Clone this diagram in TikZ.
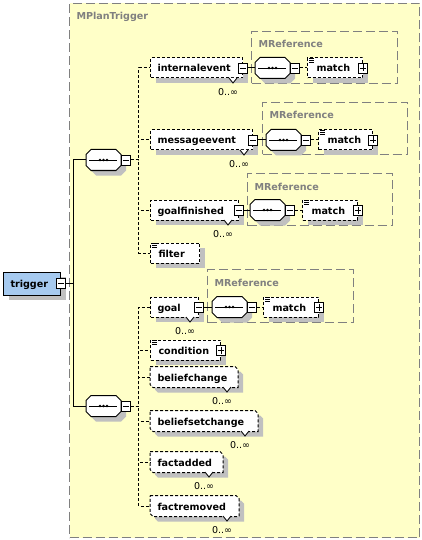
\documentclass[tikz,border=0pt]{standalone}
\usepackage{fontspec}
\setmainfont{DejaVu Sans}
\usetikzlibrary{shadows}
\definecolor{yel}{HTML}{FFFFC8}
\definecolor{trigblue}{HTML}{A6CAF0}
\definecolor{shd}{HTML}{C0C0C0}
\definecolor{lbl}{HTML}{808080}

\newcommand\champath[2]{(#1.north west) -- ([xshift=-#2pt]#1.north east) -- ([yshift=-#2pt]#1.north east) -- (#1.south east) -- ([xshift=#2pt]#1.south west) -- ([yshift=#2pt]#1.south west) -- cycle}
\newcommand\octpath[2]{([xshift=#2pt]#1.north west) -- ([xshift=-#2pt]#1.north east) -- ([yshift=-#2pt]#1.north east) -- ([yshift=#2pt]#1.south east) -- ([xshift=-#2pt]#1.south east) -- ([xshift=#2pt]#1.south west) -- ([yshift=#2pt]#1.south west) -- ([yshift=-#2pt]#1.north west) -- cycle}

\newcommand\elemnode[6]{%
  \node[elem,minimum width=#4pt] (#1) at (#2,#3) {};
  \node[etext] (#1-t) at (#2+#5,#3+4) {#6};}
\newcommand\chamnode[5]{%
  \node[inner sep=0pt,minimum width=#4pt,minimum height=20pt,anchor=west] (#1) at (#2,#3) {};
  \fill[shd,transform canvas={shift={(5pt,-5pt)}}] \champath{#1}{3};
  \filldraw[fill=white,dl] \champath{#1}{3};
  \node[etext] (#1-t) at (#2+7,#3+4) {#5};}
\newcommand\docicon[1]{%
  \foreach \d in {1,3,5}{\draw[line width=.8pt,solid] ([xshift=2pt,yshift=-\d pt]#1.north west) -- ++(5,0);}}
\newcommand\multi[3]{%
  \coordinate (#1-n) at (#2,#3);
  \filldraw[fill=white,line width=.8pt,solid] ([xshift=-4pt]#1-n) -- ([yshift=-5pt]#1-n) -- ([xshift=4pt]#1-n);
  \node[mult] (#1-m) at ([xshift=-5pt,yshift=-17.5pt]#1-n) {0..∞};}
\newcommand\seqnode[3]{%
  \node[inner sep=0pt,minimum width=34pt,minimum height=20pt,anchor=west] (#1) at (#2,#3) {};
  \fill[shd,transform canvas={shift={(5pt,-5pt)}}] \octpath{#1}{5};
  \filldraw[fill=white,solid] \octpath{#1}{5};
  \draw[line width=.9pt,solid] ([xshift=3pt]#1.west) -- ([xshift=-4pt]#1.east);
  \fill ([xshift=-3.5pt]#1.center) circle[radius=1.4pt] (#1.center) circle[radius=1.4pt] ([xshift=3.5pt]#1.center) circle[radius=1.4pt];
  \node[minusbox,anchor=west] (#1m) at (#1.east) {};}

\begin{document}
\begin{tikzpicture}[x=1pt,y=-1pt,line width=1pt,
  frame/.style={draw=lbl,dash pattern=on 9pt off 4pt,line width=1pt,inner sep=0pt,anchor=north west},
  sh/.style={drop shadow={shadow xshift=5pt,shadow yshift=-5pt,fill=shd,opacity=1}},
  dl/.style={dash pattern=on 3pt off 2pt},
  elem/.style={draw,fill=white,dl,inner sep=0pt,minimum height=20pt,anchor=west,sh},
  etext/.style={font=\fontsize{9.6}{11}\selectfont\bfseries,inner sep=0pt,anchor=base west},
  lbltext/.style={etext,text=lbl},
  mult/.style={font=\fontsize{9.5}{11}\selectfont,inner sep=0pt,anchor=base},
  pm/.style={draw,solid,fill=white,line width=.8pt,minimum width=9pt,minimum height=10pt,inner sep=0pt},
  minusbox/.style={pm,path picture={\draw[line width=.8pt] ([xshift=1.5pt]path picture bounding box.west) -- ([xshift=-1.5pt]path picture bounding box.east);}},
  plusbox/.style={pm,path picture={\draw[line width=.8pt] ([xshift=1.5pt]path picture bounding box.west) -- ([xshift=-1.5pt]path picture bounding box.east) ([yshift=-1.5pt]path picture bounding box.north) -- ([yshift=1.5pt]path picture bounding box.south);}}]
\fill[white] (0,0) rectangle (422,540);
\useasboundingbox (0,0) rectangle (422,540);

% outer complex type
\node[frame,fill=yel,minimum width=350pt,minimum height=534pt] (mpt) at (69,3) {};
\node[lbltext] (mpt-l) at (76,20) {MPlanTrigger};

% MReference groups
\node[frame,minimum width=146pt,minimum height=52pt] (mr1) at (251,31) {};
\node[lbltext] (mr1-l) at (258,48) {MReference};
\node[frame,minimum width=145pt,minimum height=52pt] (mr2) at (262,102) {};
\node[lbltext] (mr2-l) at (269,119) {MReference};
\node[frame,minimum width=145pt,minimum height=52pt] (mr3) at (247,173) {};
\node[lbltext] (mr3-l) at (254,190) {MReference};
\node[frame,minimum width=146pt,minimum height=53pt] (mr4) at (207,269) {};
\node[lbltext] (mr4-l) at (214,286) {MReference};

% root
\node[draw,solid,fill=trigblue,minimum width=57pt,minimum height=23pt,inner sep=0pt,anchor=west,sh] (trig) at (3,283.5) {};
\node[etext] (trig-t) at (10,287.5) {trigger};
\node[minusbox] (tm) at (trig.east) {};

% compositors
\seqnode{s1}{86}{160}
\seqnode{s2}{86}{406}

% group 1
\elemnode{ie}{150}{68}{92}{7}{internalevent}
\node[minusbox] (iem) at (ie.east) {};
\multi{ie}{233}{78}
\seqnode{mr1s}{255}{68}
\elemnode{m1}{307}{68}{55}{9}{match}
\docicon{m1}
\node[plusbox] (m1p) at (m1.east) {};

\elemnode{me}{150}{140}{102}{7}{messageevent}
\node[minusbox] (mem) at (me.east) {};
\multi{me}{244}{150}
\seqnode{mr2s}{266}{140}
\elemnode{m2}{318}{140}{54}{9}{match}
\docicon{m2}
\node[plusbox] (m2p) at (m2.east) {};

\elemnode{gf}{150}{210}{88}{7}{goalfinished}
\node[minusbox] (gfm) at (gf.east) {};
\multi{gf}{228}{220}
\seqnode{mr3s}{250}{210}
\elemnode{m3}{302}{210}{55}{9}{match}
\docicon{m3}
\node[plusbox] (m3p) at (m3.east) {};

\elemnode{fi}{150}{253}{49}{8}{filter}
\docicon{fi}

% group 2
\elemnode{go}{150}{307}{48}{7}{goal}
\node[minusbox] (gom) at (go.east) {};
\multi{go}{190}{317}
\seqnode{mr4s}{212}{307}
\elemnode{m4}{263}{307}{55}{9}{match}
\docicon{m4}
\node[plusbox] (m4p) at (m4.east) {};

\elemnode{co}{150}{350}{70}{8}{condition}
\docicon{co}
\node[plusbox] (cop) at (co.east) {};

\chamnode{bc}{150}{377}{87}{beliefchange}
\multi{bc}{227}{387}
\chamnode{bs}{150}{421}{107}{beliefsetchange}
\multi{bs}{245}{431}
\chamnode{fa}{150}{462}{72}{factadded}
\multi{fa}{209}{472}
\chamnode{fr}{150}{506}{88}{factremoved}
\multi{fr}{227}{516}

% connectors
\draw (tm.east) -- ++(8,0) |- (s1.west);
\draw (tm.east) -- ++(8,0) |- (s2.west);
\foreach \c in {ie,me,gf,fi}{\draw[dl] (s1m.east) -- ++(8,0) |- (\c.west);}
\foreach \c in {go,co,bc,bs,fa,fr}{\draw[dl] (s2m.east) -- ++(8,0) |- (\c.west);}
\draw (iem.east) -- (mr1s.west);
\draw[dl] (mr1sm.east) -- (m1.west);
\draw (mem.east) -- (mr2s.west);
\draw[dl] (mr2sm.east) -- (m2.west);
\draw (gfm.east) -- (mr3s.west);
\draw[dl] (mr3sm.east) -- (m3.west);
\draw (gom.east) -- (mr4s.west);
\draw[dl] (mr4sm.east) -- (m4.west);
\end{tikzpicture}
\end{document}
